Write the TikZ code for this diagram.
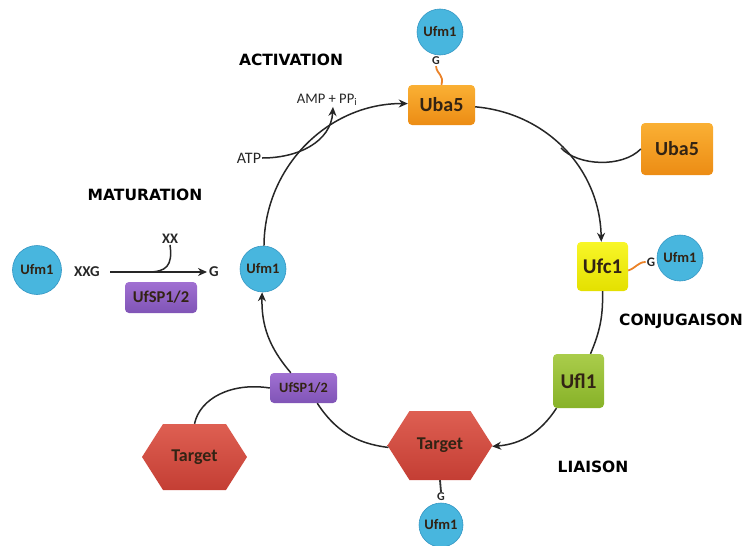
\documentclass[tikz,border=0pt]{standalone}
\usepackage{fontspec}
\setmainfont{Carlito}
\newfontfamily\headfont{DejaVu Sans}
\usetikzlibrary{arrows.meta,shapes.symbols}
\definecolor{ufmblue}{RGB}{72,182,222}
\definecolor{ufmedge}{RGB}{52,150,195}
\definecolor{orgA}{RGB}{250,176,52}
\definecolor{orgB}{RGB}{236,140,20}
\definecolor{yelA}{RGB}{248,246,40}
\definecolor{yelB}{RGB}{228,224,0}
\definecolor{grnA}{RGB}{170,205,75}
\definecolor{grnB}{RGB}{135,178,40}
\definecolor{redA}{RGB}{222,95,82}
\definecolor{redB}{RGB}{196,62,52}
\definecolor{purA}{RGB}{160,112,210}
\definecolor{purB}{RGB}{128,84,182}
\definecolor{linkorange}{RGB}{235,130,40}
\definecolor{boxtext}{RGB}{50,35,20}
\tikzset{
  ufm/.style={circle, inner sep=0pt, minimum size=46pt, fill=ufmblue, draw=ufmedge, line width=0.6pt,
    text=boxtext, font=\bfseries\fontsize{14.5}{15}\selectfont},
  pbox/.style={rectangle, rounded corners=4pt, inner sep=0pt, text=boxtext,
    font=\bfseries\fontsize{20}{21}\selectfont},
  hexa/.style={signal, signal to=east and west, signal pointer angle=115, inner sep=0pt,
    top color=redA, bottom color=redB, draw=none, text=boxtext,
    font=\bfseries\fontsize{18}{19}\selectfont},
  head/.style={font=\headfont\bfseries\fontsize{15.5}{16}\selectfont, text=black},
  lbl/.style={font=\fontsize{16}{17}\selectfont, text=black!85},
  blbl/.style={font=\bfseries\fontsize{15}{16}\selectfont, text=black!85},
  cyc/.style={line width=1.5pt, draw=black!85},
  arr/.style={cyc, -{Stealth[length=9pt,width=8pt]}},
  olink/.style={line width=1.8pt, draw=linkorange},
}
\begin{document}
\begin{tikzpicture}[x=1pt,y=1pt]
\useasboundingbox (0,0) rectangle (742,-546);
% cycle nodes
\node[pbox, minimum width=67pt, minimum height=40pt, top color=orgA, bottom color=orgB] (uba5) at (441.5,-105) {Uba5};
\node[pbox, minimum width=72pt, minimum height=52pt, top color=orgA, bottom color=orgB] (uba5b) at (677,-149) {Uba5};
\node[pbox, minimum width=51pt, minimum height=49pt, top color=yelA, bottom color=yelB,
  font=\bfseries\fontsize{21}{22}\selectfont] (ufc1) at (602.5,-266.5) {Ufc1};
\node[pbox, minimum width=51pt, minimum height=54pt, top color=grnA, bottom color=grnB,
  font=\bfseries\fontsize{21}{22}\selectfont] (ufl1) at (578.5,-381) {Ufl1};
\node[hexa, minimum width=105pt, minimum height=69pt] (tgt) at (440,-445.5) {Target};
\node[hexa, minimum width=105pt, minimum height=66pt] (tgtL) at (194.5,-457) {Target};
\node[pbox, minimum width=67pt, minimum height=30pt, top color=purA, bottom color=purB,
  font=\bfseries\fontsize{14.2}{15}\selectfont] (ufsp) at (303.5,-388) {UfSP1/2};
\node[pbox, minimum width=72pt, minimum height=31pt, top color=purA, bottom color=purB,
  font=\bfseries\fontsize{16.5}{17}\selectfont] (ufspL) at (161,-297.5) {UfSP1/2};
% Ufm1 circles
\node[ufm] (ufmL) at (263,-269) {Ufm1};
\node[ufm] (ufmT) at (440,-32) {Ufm1};
\node[ufm] (ufmR) at (680,-258) {Ufm1};
\node[ufm, minimum size=44pt] (ufmB) at (441,-525) {Ufm1};
\node[ufm, minimum size=49pt] (ufmF) at (37,-270) {Ufm1};
% G labels
\node[blbl, font=\bfseries\fontsize{12}{12}\selectfont, inner sep=1pt] (gT) at (436,-61) {G};
\node[blbl, font=\bfseries\fontsize{13}{13}\selectfont, inner sep=1pt] (gR) at (651,-262) {G};
\node[blbl, font=\bfseries\fontsize{12}{12}\selectfont, inner sep=1pt] (gB) at (441,-497) {G};
\node[blbl, inner sep=1pt, anchor=base] (gM) at (214,-276) {G};
% other labels
\node[blbl, inner sep=1pt, anchor=base] (xxg) at (87,-276) {XXG};
\node[blbl, font=\bfseries\fontsize{14.5}{15}\selectfont, inner sep=1pt] (xx) at (170,-239) {XX};
\node[lbl, font=\fontsize{14.6}{15}\selectfont, inner sep=1pt] (amp) at (327,-100) {AMP + PP\textsubscript{i}};
\node[lbl, inner sep=1pt] (atp) at (249,-158) {ATP};
\node[head] (hact) at (291,-60) {ACTIVATION};
\node[head] (hmat) at (145,-195) {MATURATION};
\node[head] (hconj) at (681,-321) {CONJUGAISON};
\node[head] (hlia) at (593,-467) {LIAISON};
% cycle connectors
\draw[arr] (ufmL) to[bend left=45] (uba5);
\draw[arr] (uba5) to[bend left=42] (ufc1);
\draw[cyc] (ufc1) to[bend left=12] (ufl1);
\draw[arr] (ufl1) to[bend left=26] (tgt);
\draw[cyc] (tgt) to[bend left=25] (ufsp);
\draw[arr] (ufsp) to[bend left=21] (ufmL);
% side connectors
\coordinate (c1) at (561,-148);
\draw[cyc] (c1) .. controls (578,-166) and (622,-168) .. (uba5b.west);
\draw[cyc] (ufsp.west) .. controls (232,-382) and (200,-398) .. (tgtL.north);
\draw[arr] (atp.east) .. controls (298,-158) and (331,-142) .. ([xshift=6pt]amp.south);
\coordinate (mstart) at (110,-272);
\coordinate (mend) at (207,-272);
\draw[arr] (mstart) -- (mend);
\coordinate (xj) at (148,-272);
\draw[cyc] (xx.south) .. controls (173,-266) and (166,-272) .. (xj);
% links
\draw[olink] (gT.south) .. controls (437,-75) and (444,-74) .. (uba5.north);
\draw[olink] ([yshift=-4pt]ufc1.east) .. controls (636,-268) and (638,-262) .. (gR.west);
\draw[line width=1.8pt, draw=black!80] (tgt.south) -- (gB.north);
\end{tikzpicture}
\end{document}
